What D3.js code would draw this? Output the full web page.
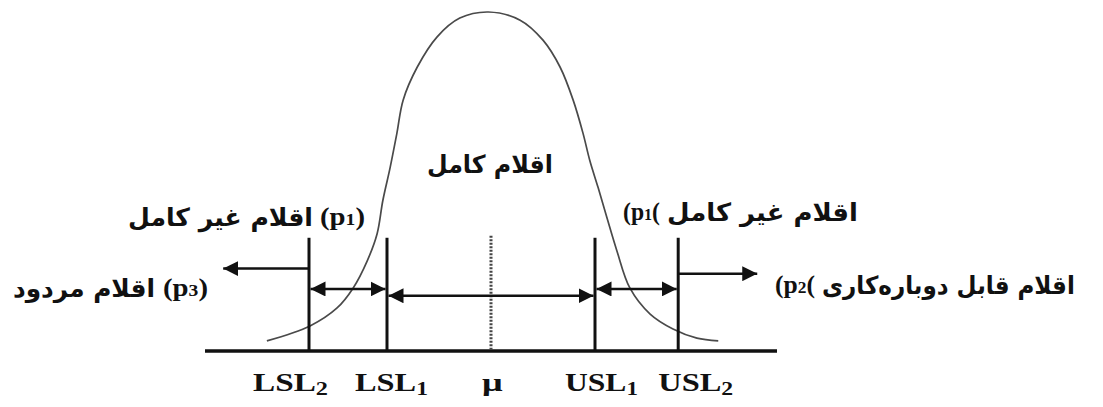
<!DOCTYPE html>
<html>
<head>
<meta charset="utf-8">
<script src="https://cdn.jsdelivr.net/npm/d3@7/dist/d3.min.js"></script>
<style>
  html, body { margin: 0; padding: 0; background: #fff; }
  svg { display: block; }
  .tag { direction: ltr; unicode-bidi: bidi-override; }
</style>
</head>
<body>
<svg id="chart" width="1103" height="407"></svg>
<script>
// Normal distribution sketch with two-level specification limits.
// x is measured in distance from the mean, y is the relative density height.
const curveX = [-4.31, -3.48, -2.96, -2.65, -2.38, -2.19, -2.08, -1.94, -1.81, -1.69, -1.42, -1.04, -0.60, -0.05,
                 0.56, 1.00, 1.33, 1.58, 1.77, 1.90, 2.06, 2.23, 2.42, 2.67, 3.06, 3.50, 3.96, 4.37];
const curveY = [0.030, 0.074, 0.127, 0.186, 0.266, 0.346, 0.444, 0.541, 0.642, 0.740, 0.837, 0.926, 0.982, 1.000,
                0.976, 0.917, 0.837, 0.740, 0.642, 0.562, 0.482, 0.393, 0.296, 0.186, 0.109, 0.065, 0.038, 0.030];

// Specification limits and the mean
const limitNames  = ["LSL", "LSL", "μ", "USL", "USL"];
const limitSubs   = ["2", "1", "", "1", "2"];
const limitValues = [-3.5, -2, 0, 2, 3.6];
const limitHeight = 0.334;

// Region arrows
const arrowFrom   = [-3.5, -3.5, -2, 2, 3.6];
const arrowTo     = [-5.15, -2, 2, 3.6, 5.12];
const arrowLevel  = [0.243, 0.183, 0.163, 0.183, 0.228];
const arrowDouble = [false, true, true, true, false];

// Region captions
const captionArabic = ["اقلام کامل", "اقلام غیر کامل", "اقلام مردود", "اقلام غیر کامل", "اقلام قابل دوباره‌کاری"];
const captionTag    = ["", "(p|1)", "(p|3)", "(p|1(", "(p|2("];

const svg = d3.select("#chart");
const x = d3.scaleLinear().domain([-5.5, 5.5]).range([205, 777]);
const y = d3.scaleLinear().domain([0, 1]).range([351, 12]);

// arrowhead
svg.append("defs").append("marker")
  .attr("id", "head")
  .attr("viewBox", "0 0 15 15")
  .attr("refX", 15).attr("refY", 7.5)
  .attr("markerWidth", 15).attr("markerHeight", 15)
  .attr("markerUnits", "userSpaceOnUse")
  .attr("orient", "auto-start-reverse")
  .append("path").attr("d", "M0,0 L15,7.5 L0,15 Z").attr("fill", "#111");

// density curve
const pts = curveX.map((v, i) => [v, curveY[i]]);
svg.append("path")
  .datum(pts)
  .attr("fill", "none")
  .attr("stroke", "#4a4a4a")
  .attr("stroke-width", 1.7)
  .attr("d", d3.line().x(d => x(d[0])).y(d => y(d[1])).curve(d3.curveCatmullRom.alpha(0.5)));

// baseline
svg.append("line")
  .attr("x1", x(-5.5)).attr("x2", x(5.5))
  .attr("y1", y(0)).attr("y2", y(0))
  .attr("stroke", "#111").attr("stroke-width", 3.5);

// limit lines (the mean is dotted)
svg.selectAll("line.limit")
  .data(limitValues)
  .join("line")
  .attr("class", "limit")
  .attr("x1", d => x(d)).attr("x2", d => x(d))
  .attr("y1", (d, i) => y(i === 2 ? limitHeight + 0.006 : limitHeight))
  .attr("y2", y(0))
  .attr("stroke", (d, i) => i === 2 ? "#444" : "#111")
  .attr("stroke-width", 3)
  .attr("stroke-dasharray", (d, i) => i === 2 ? "2,1.5" : null);

// arrows; double-headed ones stop at the edges of the limit lines
const half = 1.5;
svg.selectAll("line.arrow")
  .data(arrowFrom)
  .join("line")
  .attr("class", "arrow")
  .attr("x1", (d, i) => arrowDouble[i] ? x(d) + half : x(d))
  .attr("x2", (d, i) => arrowDouble[i] ? x(arrowTo[i]) - half : x(arrowTo[i]))
  .attr("y1", (d, i) => y(arrowLevel[i]))
  .attr("y2", (d, i) => y(arrowLevel[i]))
  .attr("stroke", "#111")
  .attr("stroke-width", 2.5)
  .attr("marker-end", "url(#head)")
  .attr("marker-start", (d, i) => arrowDouble[i] ? "url(#head)" : null);

// stretch a text element horizontally to span [x0, x1] with its baseline at yb
function fit(node, x0, x1, yb) {
  const bb = node.getBBox();
  const sx = (x1 - x0) / bb.width;
  d3.select(node).attr("transform", `translate(${x0 - bb.x * sx},${yb}) scale(${sx},1)`);
}

const arabicFont = "'DejaVu Sans', sans-serif";
const latinFont = "'Liberation Serif', 'Times New Roman', serif";

function arabic(str, size) {
  return svg.append("text")
    .attr("font-family", arabicFont)
    .attr("font-weight", "bold")
    .attr("font-size", size)
    .attr("fill", "#111")
    .text(str).node();
}

function tag(str, size) {
  const [pre, post] = str.split("|");
  const t = svg.append("text")
    .attr("class", "tag")
    .attr("font-family", latinFont)
    .attr("font-weight", "bold")
    .attr("font-size", size)
    .attr("fill", "#111");
  t.append("tspan").text(pre);
  t.append("tspan").attr("font-size", size * 0.68).text(post[0]);
  t.append("tspan").text(post.slice(1));
  return t.node();
}

// caption layout: arabic span, tag span, baseline
const captionLayout = [
  { ar: [427, 553], tg: null, yb: 173 },
  { ar: [128, 313], tg: [320, 365], yb: 226 },
  { ar: [13, 155], tg: [163, 208], yb: 297 },
  { ar: [667, 858], tg: [623, 660], yb: 221 },
  { ar: [822, 1075], tg: [775, 815], yb: 294 }
];

captionArabic.forEach((s, i) => {
  const L = captionLayout[i];
  fit(arabic(s, 25), L.ar[0], L.ar[1], L.yb);
  if (captionTag[i]) fit(tag(captionTag[i], 25), L.tg[0], L.tg[1], L.yb - 1);
});

// limit labels under the axis
const labelOffset = [-18.5, 4.5, 1.5, 6.5, 17.5];
const labelWidth  = [75, 73, 21, 73, 75];
limitNames.forEach((name, i) => {
  const t = svg.append("text")
    .attr("font-family", latinFont)
    .attr("font-weight", "bold")
    .attr("font-size", 26)
    .attr("fill", "#111");
  t.append("tspan").text(name);
  if (limitSubs[i]) t.append("tspan").attr("font-size", 19).attr("dy", 4).text(limitSubs[i]);
  const c = x(limitValues[i]) + labelOffset[i];
  fit(t.node(), c - labelWidth[i] / 2, c + labelWidth[i] / 2, 391);
});
</script>
</body>
</html>
